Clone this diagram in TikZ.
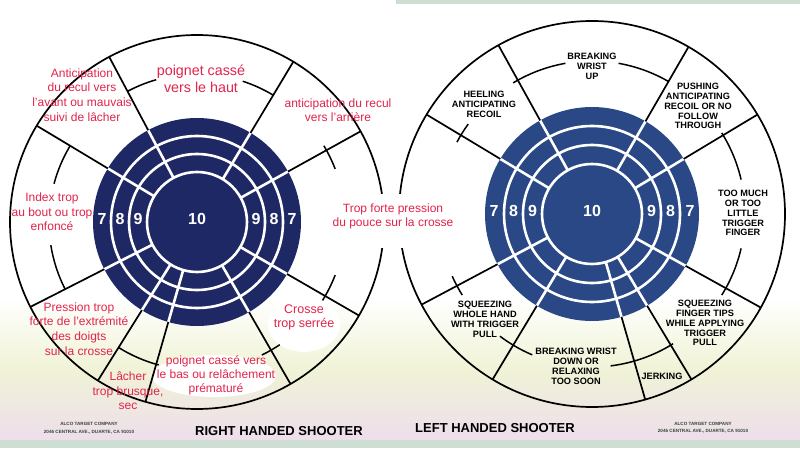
\documentclass[tikz,border=0pt]{standalone}
\usepackage{fontspec}
\setmainfont{Liberation Sans}
\usetikzlibrary{calc}
\definecolor{frred}{RGB}{226,36,76}
\definecolor{discL}{RGB}{30,40,100}
\definecolor{discR}{RGB}{42,72,134}
\definecolor{paperA}{RGB}{240,243,214}
\definecolor{paperB}{RGB}{238,222,236}
\definecolor{paperC}{RGB}{206,222,210}
\definecolor{fineink}{RGB}{50,70,50}
\begin{document}
\begin{tikzpicture}[x=1pt,y=1pt,
 fr/.style={text=frred, align=center, inner sep=0pt, font=\fontsize{12}{14.6}\selectfont},
 en/.style={align=center, inner sep=0pt, font=\bfseries\fontsize{9.2}{9.9}\selectfont},
 num/.style={text=white, inner sep=0pt, font=\bfseries\fontsize{16}{16}\selectfont},
 blk/.style={line width=1.7pt, black},
 wht/.style={line width=2.6pt, white},
 lead/.style={line width=1.5pt, black},
 titletxt/.style={inner sep=0pt, font=\bfseries\fontsize{13}{13}\selectfont},
 tinytxt/.style={text=fineink, align=center, inner sep=0pt, font=\bfseries\fontsize{4.6}{7.5}\selectfont}]
\useasboundingbox (0,0) rectangle (800,448);
\fill[white] (0,0) rectangle (800,448);
\shade[top color=white, bottom color=paperB, middle color=paperA] (0,8) rectangle (800,150);
\fill[paperC] (0,0) rectangle (800,8);
\fill[paperC] (396,444) rectangle (800,448);
% lighter paper patches behind the lower French labels
\fill[white] (304,124) ellipse[x radius=36pt, y radius=28pt];
\fill[white] (214,72) ellipse[x radius=62pt, y radius=21pt];

% ---------------- left target (right handed shooter)
\coordinate (L) at (197,226);
\fill[discL] (L) circle[radius=104pt];
\foreach \r in {50,68,86} \draw[wht] (L) circle[radius=\r pt];
\foreach \a in {29,59,118,149,207,238,254,300,330} {
  \draw[wht] ($(L)+(\a:50pt)$) -- ($(L)+(\a:104pt)$);
  \draw[blk] ($(L)+(\a:104pt)$) -- ($(L)+(\a:187pt)$);
}
\draw[blk] (L) circle[radius=187pt];
\foreach \s/\e in {59/72,106/118,21/31,328/339,149/165,189/207,296/304,238/255}
  \draw[lead] ($(L)+(\s:148pt)$) arc[start angle=\s, end angle=\e, radius=148pt];
\foreach \d/\x [count=\i] in {7/-95,8/-77,9/-59,10/0,9/59,8/77,7/95}
  \node[num] (ln\i) at ($(L)+(\x pt,3pt)$) {\d};

% ---------------- right target (left handed shooter)
\coordinate (R) at (592,234);
\fill[discR] (R) circle[radius=107pt];
\foreach \r in {50,69,88} \draw[wht] (R) circle[radius=\r pt];
\foreach \a in {31,60,119,149,208,239,286,301,331} {
  \draw[wht] ($(R)+(\a:50pt)$) -- ($(R)+(\a:107pt)$);
  \draw[blk] ($(R)+(\a:107pt)$) -- ($(R)+(\a:193pt)$);
}
\draw[blk] (R) circle[radius=193pt];
\foreach \s/\e in {60/80,100/121,144/152,13/32,328/347,204/212,233/247,277/302}
  \draw[lead] ($(R)+(\s:153pt)$) arc[start angle=\s, end angle=\e, radius=153pt];
\foreach \d/\x [count=\i] in {7/-98,8/-78.5,9/-59.5,10/0,9/59.5,8/78.5,7/98}
  \node[num] (rn\i) at ($(R)+(\x pt,3pt)$) {\d};

% ---------------- shared label between the targets
\fill[white] (372,200) rectangle (412,254);
\node[fr, font=\fontsize{12}{13.5}\selectfont] (thumb) at (393,231.5) {Trop forte pression\\du pouce sur la crosse};

% ---------------- French labels
\node[fr] (a1) at (82,353) {Anticipation\\du recul vers\\l'avant ou mauvais\\suivi de lâcher};
\node[fr, font=\fontsize{14.3}{17}\selectfont] (a2) at (201,369.5) {poignet cassé\\vers le haut};
\node[fr, font=\fontsize{12}{14}\selectfont] (a3) at (338,338) {anticipation du recul\\vers l'arrière};
\node[fr] (a4) at (52,236) {Index trop\\au bout ou trop\\enfoncé};
\node[fr] (a6) at (79,119) {Pression trop\\forte de l'extrémité\\des doigts\\sur la crosse};
\node[fr] (a7) at (128,57) {Lâcher\\trop brusque,\\sec};
\node[fr, font=\fontsize{12}{14}\selectfont] (a8) at (216,73) {poignet cassé vers\\le bas ou relâchement\\prématuré};
\node[fr, font=\fontsize{12.5}{13.5}\selectfont] (a9) at (304,130.5) {Crosse\\trop serrée};

% ---------------- English labels
\node[en] (b1) at (592,382) {BREAKING\\WRIST\\UP};
\node[en] (b2) at (484,344) {HEELING\\ANTICIPATING\\RECOIL};
\node[en] (b3) at (698,342) {PUSHING\\ANTICIPATING\\RECOIL OR NO\\FOLLOW\\THROUGH};
\node[en] (b4) at (743,235) {TOO MUCH\\OR TOO\\LITTLE\\TRIGGER\\FINGER};
\node[en] (b5) at (485,129) {SQUEEZING\\WHOLE HAND\\WITH  TRIGGER\\PULL};
\node[en] (b6) at (576,82) {BREAKING WRIST\\DOWN OR\\RELAXING\\TOO SOON};
\node[en] (b7) at (662,72) {JERKING};
\node[en] (b8) at (705,125) {SQUEEZING\\FINGER TIPS\\WHILE APPLYING\\TRIGGER\\PULL};

% ---------------- titles and maker
\node[titletxt] (t1) at (279,17) {RIGHT HANDED SHOOTER};
\node[titletxt] (t2) at (495,20) {LEFT HANDED SHOOTER};
\node[tinytxt] (m1) at (89,20) {ALCO TARGET COMPANY\\2046 CENTRAL AVE., DUARTE, CA 91010};
\node[tinytxt] (m2) at (703,20.5) {ALCO TARGET COMPANY\\2046 CENTRAL AVE., DUARTE, CA 91010};
\end{tikzpicture}
\end{document}
